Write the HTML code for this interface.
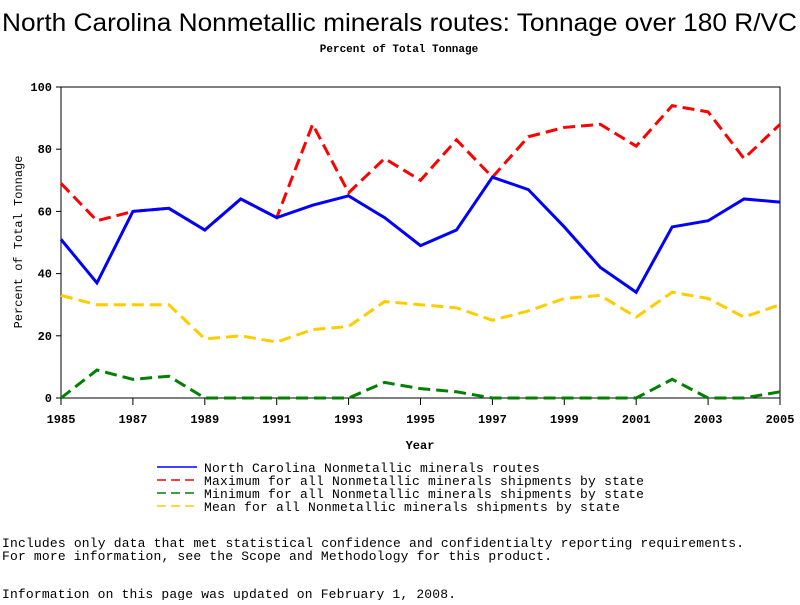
<!DOCTYPE html>
<html><head><meta charset="utf-8"><style>
body{margin:0;background:#fff;}
svg text{font-family:"Liberation Mono",monospace;}
</style></head><body>
<svg width="800" height="600" xmlns="http://www.w3.org/2000/svg" id="chart">
<text x="2" y="31" textLength="795" lengthAdjust="spacingAndGlyphs" style="font-family:'Liberation Sans',sans-serif;font-size:25px">North Carolina Nonmetallic minerals routes: Tonnage over 180 R/VC</text>
<text x="399" y="52" text-anchor="middle" font-size="11" font-weight="bold">Percent of Total Tonnage</text>
<rect x="61" y="87" width="719" height="311" fill="none" stroke="#000"/>
<g id="axes"></g>
<g id="series"></g>
<text x="420" y="449" text-anchor="middle" font-size="12" font-weight="bold">Year</text>
<text transform="translate(22,242) rotate(-90)" text-anchor="middle" font-size="12">Percent of Total Tonnage</text>
<g id="legend" font-size="13" letter-spacing="0.2"></g>
<text x="2" y="547" font-size="13" textLength="742">Includes only data that met statistical confidence and confidentialty reporting requirements.</text>
<text x="2" y="560" font-size="13" textLength="550">For more information, see the Scope and Methodology for this product.</text>
<text x="2" y="598" font-size="13" textLength="454">Information on this page was updated on February 1, 2008.</text>
</svg>
<script>
const years=[1985,1986,1987,1988,1989,1990,1991,1992,1993,1994,1995,1996,1997,1998,1999,2000,2001,2002,2003,2004,2005];
const ncRoutes=[51,37,60,61,54,64,58,62,65,58,49,54,71,67,55,42,34,55,57,64,63];
const maxState=[69,57,60,61,54,64,58,88,66,77,70,83,71,84,87,88,81,94,92,77,88];
const minState=[0,9,6,7,0,0,0,0,0,5,3,2,0,0,0,0,0,6,0,0,2];
const meanState=[33,30,30,30,19,20,18,22,23,31,30,29,25,28,32,33,26,34,32,26,30];
const yTicks=[0,20,40,60,80,100];
const xTicks=[1985,1987,1989,1991,1993,1995,1997,1999,2001,2003,2005];
const legendLabels=["North Carolina Nonmetallic minerals routes","Maximum for all Nonmetallic minerals shipments by state","Minimum for all Nonmetallic minerals shipments by state","Mean for all Nonmetallic minerals shipments by state"];
const NS="http://www.w3.org/2000/svg";
const X=v=>61+(v-1985)*(719/20);
const Y=v=>398-v*3.11;
function mk(t,a,p){const e=document.createElementNS(NS,t);for(const k in a)e.setAttribute(k,a[k]);p.appendChild(e);return e;}
const ax=document.getElementById('axes');
yTicks.forEach(v=>{
 const l=mk('line',{x1:56,x2:61,y1:Y(v),y2:Y(v),stroke:'#000'},ax);
 
 
 const t=mk('text',{x:52,y:Y(v)+4,'text-anchor':'end','font-size':12,'font-weight':'bold'},ax);t.textContent=v;
 
 
});
xTicks.forEach(v=>{
 const l=mk('line',{x1:X(v),x2:X(v),y1:398,y2:405,stroke:'#000'},ax);
 
 
 const t=mk('text',{x:X(v),y:423,'text-anchor':'middle','font-size':12,'font-weight':'bold'},ax);t.textContent=v;
 
 
});
const sg=document.getElementById('series');
const defs=[[ncRoutes,'#0000ff',null,'nc-routes-line'],[maxState,'#ff0000','12 6','max-line'],[minState,'#008000','12 6','min-line'],[meanState,'#ffcc00','12 6','mean-line']];
[defs[3],defs[2],defs[1],defs[0]].forEach(d=>{
 const p=mk('polyline',{points:d[0].map((v,i)=>X(years[i])+','+Y(v)).join(' '),fill:'none',stroke:d[1],'stroke-width':3},sg);
 if(d[2])p.setAttribute('stroke-dasharray',d[2]);
 
 
});
const lg=document.getElementById('legend');
defs.forEach((d,i)=>{
 const y=467+i*13;
 const l=mk('line',{x1:157,x2:197,y1:y,y2:y,stroke:d[1],'stroke-width':1.5},lg);
 if(d[2])l.setAttribute('stroke-dasharray','9 5');
 
 
 const t=mk('text',{x:204,y:y+5},lg);t.textContent=legendLabels[i];
 
 
});
</script>
</body></html>
